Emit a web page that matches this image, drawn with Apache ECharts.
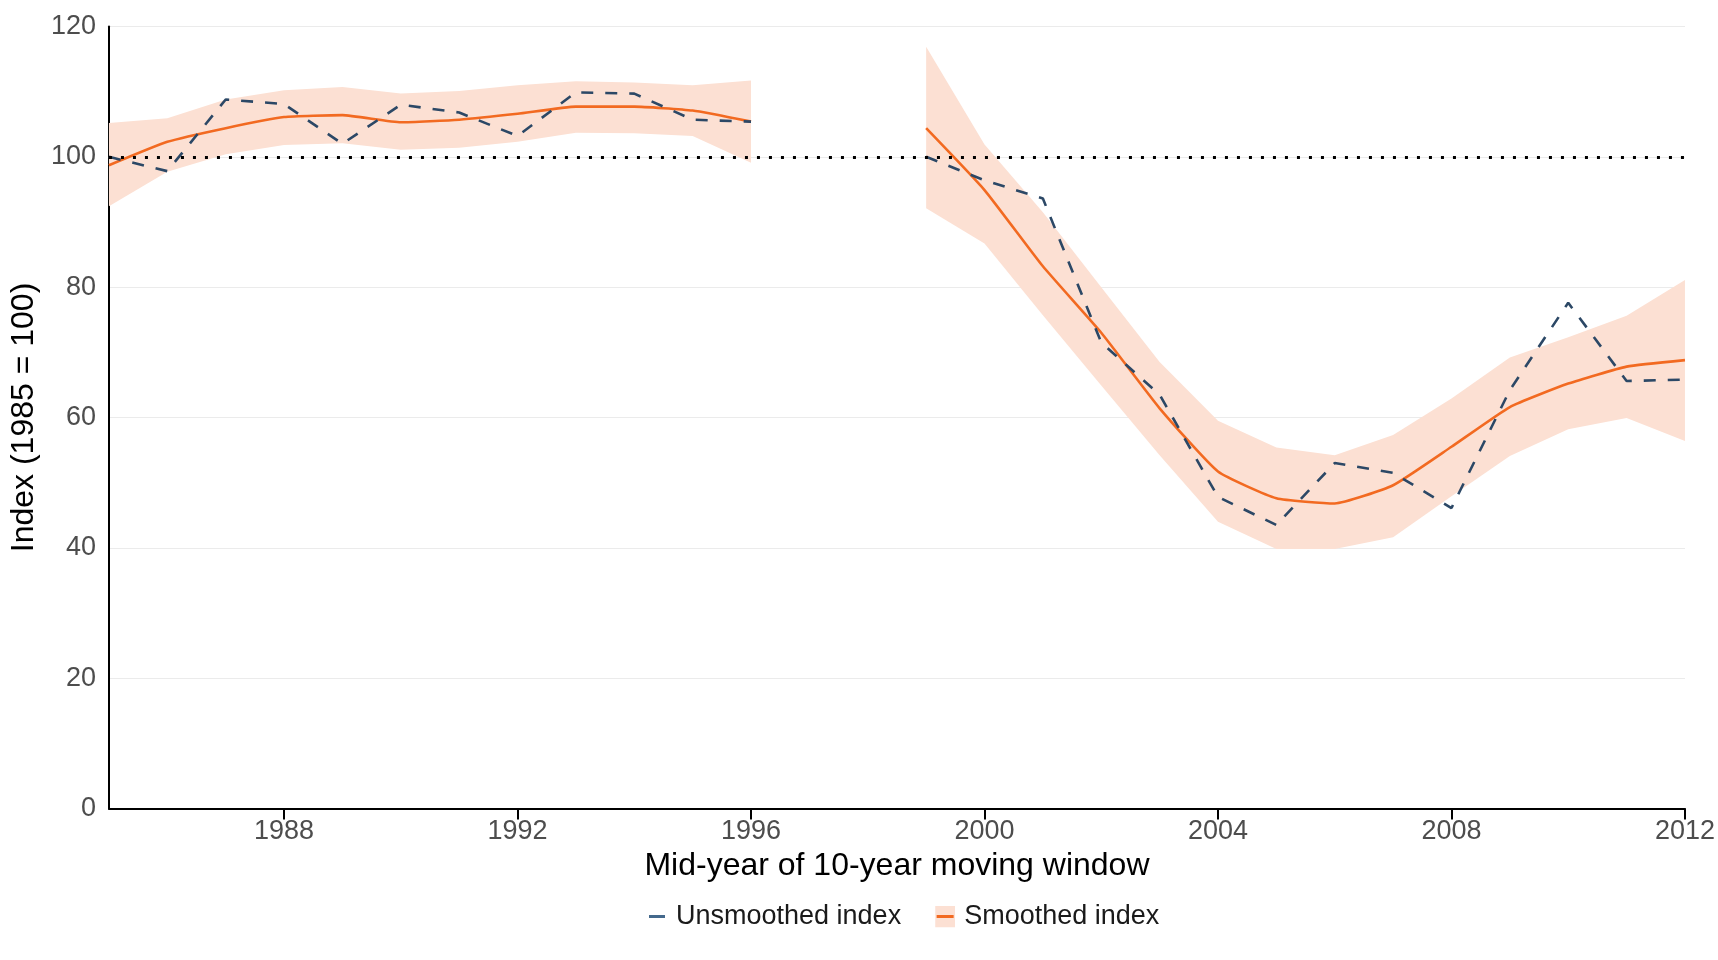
<!DOCTYPE html>
<html>
<head>
<meta charset="utf-8">
<script src="https://cdn.jsdelivr.net/npm/echarts@6/dist/echarts.min.js"></script>
<style>
html,body{margin:0;padding:0;background:#fff;}
#chart{width:1718px;height:960px;}
</style>
</head>
<body>
<div id="chart"></div>
<script>
// ---- data ----
const years = [1985,1986,1987,1988,1989,1990,1991,1992,1993,1994,1995,1996,1997,1998,1999,2000,2001,2002,2003,2004,2005,2006,2007,2008,2009,2010,2011,2012];
const unsmoothed = [100.0,97.8,108.8,108.1,102.0,108.0,106.8,103.2,109.9,109.7,105.7,105.4,null,null,100.0,96.4,93.6,71.5,63.5,47.8,43.5,53.0,51.5,46.1,64.2,77.6,65.6,65.8];
const smoothed   = [98.7,102.3,104.4,106.1,106.4,105.3,105.7,106.6,107.7,107.7,107.1,105.4,null,null,104.4,94.9,83.2,73.0,61.4,51.7,47.6,46.8,49.6,55.5,61.6,65.2,67.8,68.8];
const bandUpper  = [105.2,105.9,108.8,110.2,110.7,109.7,110.1,111.0,111.6,111.4,111.0,111.7,null,null,116.9,101.9,91.5,80.0,68.5,59.5,55.4,54.2,57.3,62.9,69.2,72.3,75.6,81.1];
const bandLower  = [92.4,97.7,100.4,101.8,102.1,101.1,101.4,102.3,103.7,103.6,103.2,99.1,null,null,92.1,86.7,75.7,64.9,54.2,44.0,39.8,39.8,41.6,47.9,54.1,58.2,59.9,56.4];
const baseLine = 100;
const xTicks = [1988,1992,1996,2000,2004,2008,2012];
const yTicks = [0,20,40,60,80,100,120];

// ---- build ----
const pair = arr => years.map((y,i) => [y, arr[i]]);

// contiguous segments of the confidence band
const bandSegments = [];
let cur = null;
years.forEach((y,i) => {
  if (bandUpper[i] != null && bandLower[i] != null) {
    if (!cur) { cur = []; bandSegments.push(cur); }
    cur.push(i);
  } else {
    cur = null;
  }
});

const FONT = "'Liberation Sans', Arial, sans-serif";
const NAVY = '#2c4866';
const ORANGE = '#f26a21';
const PEACH = '#fce0d3';

const svgIcon = s => 'image://data:image/svg+xml;charset=utf-8,' + encodeURIComponent(s);
const iconUnsm = svgIcon("<svg xmlns='http://www.w3.org/2000/svg' width='20' height='22' viewBox='0 0 20 22'><rect x='2' y='9.5' width='16' height='3' fill='#44698c'/></svg>");
const iconSm = svgIcon("<svg xmlns='http://www.w3.org/2000/svg' width='20' height='22' viewBox='0 0 20 22'><rect width='20' height='22' fill='" + PEACH + "'/><rect x='1.5' y='9.5' width='17' height='3' fill='" + ORANGE + "'/></svg>");

const chart = echarts.init(document.getElementById('chart'), null, {renderer: 'canvas'});
chart.setOption({
  animation: false,
  backgroundColor: '#fff',
  textStyle: {fontFamily: FONT},
  grid: {left: 104, right: 27, top: 26.5, bottom: 151.6, containLabel: false},
  legend: {
    left: 642, top: 898,
    itemWidth: 20, itemHeight: 22, itemGap: 34,
    textStyle: {fontSize: 27, color: '#1a1a1a', fontFamily: FONT, padding: [0,0,0,4]},
    data: [
      {name: 'Unsmoothed index', icon: iconUnsm},
      {name: 'Smoothed index', icon: iconSm}
    ]
  },
  xAxis: {
    type: 'value', min: years[0], max: years[years.length-1],
    name: 'Mid-year of 10-year moving window',
    nameLocation: 'middle', nameGap: 36,
    nameTextStyle: {fontSize: 32, color: '#000', fontFamily: FONT},
    axisLine: {show: true, lineStyle: {color: '#000', width: 2}},
    axisTick: {show: true, length: 11, lineStyle: {color: '#000', width: 2}, customValues: xTicks},
    axisLabel: {fontSize: 27, color: '#4d4d4d', margin: 10, fontFamily: FONT, customValues: xTicks, formatter: v => String(v)},
    splitLine: {show: false}
  },
  yAxis: {
    type: 'value', min: yTicks[0], max: yTicks[yTicks.length-1], interval: 20,
    name: 'Index (1985 = 100)',
    nameLocation: 'middle', nameGap: 60,
    nameTextStyle: {fontSize: 32, color: '#000', fontFamily: FONT},
    axisLine: {show: true, lineStyle: {color: '#000', width: 2}},
    axisTick: {show: false},
    axisLabel: {fontSize: 27, color: '#4d4d4d', margin: 13, fontFamily: FONT},
    splitLine: {show: true, lineStyle: {color: '#ebebeb', width: 1}}
  },
  series: [
    {
      name: 'band', type: 'custom', silent: true, z: 1,
      data: bandSegments.map((s, k) => [k]),
      encode: {x: -1, y: -1},
      renderItem: function (params, api) {
        const seg = bandSegments[params.dataIndex];
        const pts = [];
        seg.forEach(i => pts.push(api.coord([years[i], bandUpper[i]])));
        seg.slice().reverse().forEach(i => pts.push(api.coord([years[i], bandLower[i]])));
        return {type: 'polygon', shape: {points: pts}, style: {fill: PEACH, stroke: null}};
      }
    },
    {
      name: 'refLine', type: 'line', data: [], silent: true, z: 2,
      markLine: {
        silent: true, symbol: 'none', animation: false,
        label: {show: false},
        lineStyle: {color: '#000', width: 3, type: [3, 9]},
        data: [{yAxis: baseLine}]
      }
    },
    {
      name: 'Smoothed index', type: 'line', data: pair(smoothed),
      symbol: 'none', smooth: 0.15, z: 3,
      lineStyle: {color: ORANGE, width: 2.6},
      itemStyle: {color: ORANGE}
    },
    {
      name: 'Unsmoothed index', type: 'line', data: pair(unsmoothed),
      symbol: 'none', z: 4,
      lineStyle: {color: NAVY, width: 2.6, type: [12, 12]},
      itemStyle: {color: NAVY}
    }
  ]
});
</script>
</body>
</html>
